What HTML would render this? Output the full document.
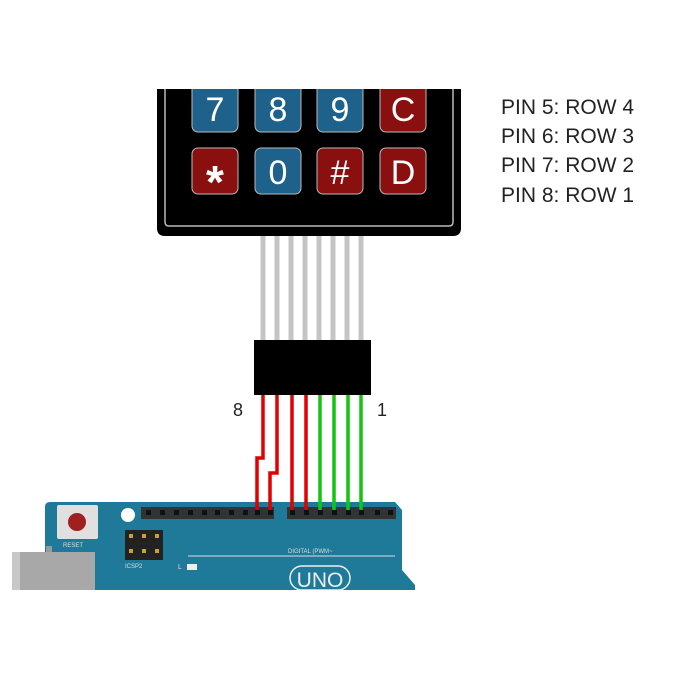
<!DOCTYPE html>
<html><head><style>
html,body{margin:0;padding:0;background:#fff;width:681px;height:681px;overflow:hidden}
</style></head><body>
<svg width="681" height="681" viewBox="0 0 681 681" xmlns="http://www.w3.org/2000/svg" font-family="Liberation Sans, sans-serif">
<path d="M157 89 H461 V228 Q461 236 453 236 H165 Q157 236 157 228 Z" fill="#000"/>
<path d="M165 89 V222 Q165 226 169 226 H449 Q453 226 453 222 V89" fill="none" stroke="#bbb" stroke-width="1.5"/>
<g font-size="34" fill="#fff" text-anchor="middle">
<rect x="192" y="82" width="46" height="50" rx="6" fill="#1e628c" stroke="#bbb"/>
<rect x="255" y="82" width="46" height="50" rx="6" fill="#1e628c" stroke="#bbb"/>
<rect x="317" y="82" width="46" height="50" rx="6" fill="#1e628c" stroke="#bbb"/>
<rect x="380" y="82" width="46" height="50" rx="6" fill="#8a1010" stroke="#bbb"/>
<rect x="192" y="148" width="46" height="46" rx="6" fill="#8a1010" stroke="#bbb"/>
<rect x="255" y="148" width="46" height="46" rx="6" fill="#1e628c" stroke="#bbb"/>
<rect x="317" y="148" width="46" height="46" rx="6" fill="#8a1010" stroke="#bbb"/>
<rect x="380" y="148" width="46" height="46" rx="6" fill="#8a1010" stroke="#bbb"/>
<text x="215" y="121">7</text><text x="278" y="121">8</text><text x="340" y="121">9</text><text x="403" y="121">C</text>
<text x="215" y="198" font-size="46" font-weight="bold">*</text><text x="278" y="184">0</text><text x="340" y="184">#</text><text x="403" y="184">D</text>
</g>
<rect x="0" y="0" width="681" height="89" fill="#fff"/>
<g stroke="#c4c4c4" stroke-width="5">
<line x1="263" y1="236" x2="263" y2="340"/><line x1="277" y1="236" x2="277" y2="340"/>
<line x1="291" y1="236" x2="291" y2="340"/><line x1="305" y1="236" x2="305" y2="340"/>
<line x1="319" y1="236" x2="319" y2="340"/><line x1="333" y1="236" x2="333" y2="340"/>
<line x1="347" y1="236" x2="347" y2="340"/><line x1="361" y1="236" x2="361" y2="340"/>
</g>
<rect x="254" y="340" width="117" height="55" fill="#000"/>
<text x="233" y="416" font-size="18" fill="#222">8</text>
<text x="377" y="416" font-size="18" fill="#222">1</text>
<path d="M50 502 H395 L402 510 V570 L415 585 V590 H45 V507 Q45 502 50 502 Z" fill="#1f7a9a"/>
<rect x="12" y="552" width="83" height="38" fill="#a8a8a8"/>
<rect x="12" y="552" width="8" height="38" fill="#c8c8c8"/>
<rect x="46" y="546" width="6" height="6" fill="#999"/>
<rect x="57" y="505" width="41" height="34" rx="2" fill="#e0e0e0"/>
<circle cx="77" cy="522" r="9" fill="#a02020"/>
<text x="63" y="547" font-size="6" fill="#ddd">RESET</text>
<circle cx="128" cy="515" r="7" fill="#fff"/>
<rect x="125" y="530" width="38" height="30" fill="#222"/>
<g fill="#c9a040"><rect x="129" y="534" width="4" height="4"/><rect x="142" y="534" width="4" height="4"/><rect x="155" y="534" width="4" height="4"/><rect x="129" y="549" width="4" height="4"/><rect x="142" y="549" width="4" height="4"/><rect x="155" y="549" width="4" height="4"/></g>
<text x="125" y="568" font-size="6" fill="#ddd">ICSP2</text>
<rect x="141" y="507" width="133" height="12" fill="#333"/>
<rect x="287" y="507" width="109" height="12" fill="#333"/>
<g fill="#111">
<rect x="146" y="510" width="5" height="5"/><rect x="160" y="510" width="5" height="5"/><rect x="174" y="510" width="5" height="5"/><rect x="188" y="510" width="5" height="5"/><rect x="202" y="510" width="5" height="5"/><rect x="215" y="510" width="5" height="5"/><rect x="229" y="510" width="5" height="5"/><rect x="243" y="510" width="5" height="5"/>
<rect x="375" y="510" width="5" height="5"/><rect x="388" y="510" width="5" height="5"/>
</g>
<line x1="188" y1="556" x2="395" y2="556" stroke="#ddd" stroke-width="1"/>
<text x="288" y="553" font-size="6" fill="#ddd">DIGITAL (PWM~</text>
<text x="178" y="569" font-size="7" fill="#ddd">L</text>
<rect x="187" y="564" width="10" height="6" fill="#eee"/>
<rect x="290" y="566" width="60" height="24" rx="12" fill="none" stroke="#eee" stroke-width="1.5"/>
<text x="320" y="587" font-size="21" fill="#eee" text-anchor="middle">UNO</text>
<g fill="none" stroke-width="3.5">
<path d="M263 395 V458 H257 V514" stroke="#e00000"/>
<path d="M277 395 V473 H270 V514" stroke="#e00000"/>
<path d="M292 395 V514" stroke="#e00000"/>
<path d="M306 395 V514" stroke="#e00000"/>
<path d="M320 395 V514" stroke="#14c414"/>
<path d="M334 395 V514" stroke="#14c414"/>
<path d="M348 395 V514" stroke="#14c414"/>
<path d="M361 395 V514" stroke="#14c414"/>
</g>
<g fill="#111"><rect x="255" y="510" width="5" height="5"/><rect x="268" y="510" width="5" height="5"/><rect x="290" y="510" width="5" height="5"/><rect x="304" y="510" width="5" height="5"/><rect x="318" y="510" width="5" height="5"/><rect x="332" y="510" width="5" height="5"/><rect x="346" y="510" width="5" height="5"/><rect x="359" y="510" width="5" height="5"/></g>
<rect x="0" y="590" width="681" height="91" fill="#fff"/>
<g font-size="21" fill="#222">
<text x="501" y="114">PIN 5: ROW 4</text>
<text x="501" y="143">PIN 6: ROW 3</text>
<text x="501" y="172">PIN 7: ROW 2</text>
<text x="501" y="202">PIN 8: ROW 1</text>
</g>
</svg>
</body></html>
